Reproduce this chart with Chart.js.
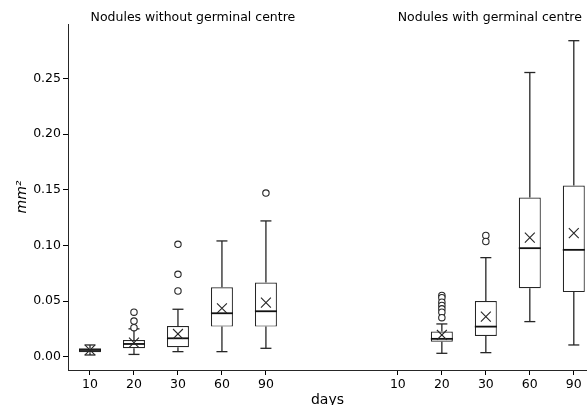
<!DOCTYPE html>
<html>
<head>
<meta charset="utf-8">
<script src="https://cdn.jsdelivr.net/npm/chart.js@4/dist/chart.umd.min.js"></script>
<style>
  html, body { margin: 0; padding: 0; background: #fff; }
  #wrap { width: 587px; height: 405px; }
</style>
</head>
<body>
<div id="wrap"><canvas id="grafico"></canvas></div>
<script>
const dias = ['10', '20', '30', '60', '90'];
const grupos = ['Nodules without germinal centre', 'Nodules with germinal centre'];

// sem centro germinal
const semMin = [0.0015, 0.002, 0.0045, 0.0045, 0.0075];
const semQ1 = [0.004, 0.0075, 0.0085, 0.027, 0.027];
const semMediana = [0.006, 0.0114, 0.0165, 0.039, 0.0408];
const semQ3 = [0.0075, 0.015, 0.0276, 0.0624, 0.0666];
const semMax = [0.0105, 0.025, 0.0426, 0.104, 0.122];
const semMedia = [0.006, 0.0126, 0.0204, 0.0435, 0.0486];
const semOutliers = [[], [0.040, 0.032, 0.026], [0.101, 0.074, 0.059], [], [0.147]];

// com centro germinal
const comMin = [null, 0.003, 0.0036, 0.0315, 0.0105];
const comQ1 = [null, 0.0135, 0.0186, 0.0615, 0.058];
const comMediana = [null, 0.016, 0.027, 0.0975, 0.096];
const comQ3 = [null, 0.0225, 0.050, 0.143, 0.1538];
const comMax = [null, 0.0294, 0.089, 0.2554, 0.284];
const comMedia = [null, 0.0195, 0.036, 0.107, 0.111];
const comOutliers = [[], [0.055, 0.053, 0.049, 0.046, 0.043, 0.040, 0.035], [0.109, 0.1035], [], []];

const yTicks = [0, 0.05, 0.10, 0.15, 0.20, 0.25];

const FONTE = 'DejaVu Sans';
const COR = '#262626';

const series = [
    { offset: 0, min: semMin, q1: semQ1, med: semMediana, q3: semQ3, max: semMax, media: semMedia, out: semOutliers },
    { offset: 7, min: comMin, q1: comQ1, med: comMediana, q3: comQ3, max: comMax, media: comMedia, out: comOutliers }
];

const posicoes = [];
const rotulos = {};
series.forEach(s => dias.forEach((d, i) => { posicoes.push(s.offset + i); rotulos[s.offset + i] = d; }));

const bigodes = [], tampas = [], caixas = [], medianas = [], medias = [], outliers = [];
series.forEach(s => {
    dias.forEach((_, i) => {
        const x = s.offset + i;
        if (s.q1[i] !== null) {
            bigodes.push({ x, y: s.min[i] }, { x, y: s.q1[i] }, { x, y: null });
            bigodes.push({ x, y: s.q3[i] }, { x, y: s.max[i] }, { x, y: null });
            tampas.push({ x, y: s.min[i] }, { x, y: s.max[i] });
            caixas.push({ x, y: [s.q1[i], s.q3[i]] });
            medianas.push({ x, y: s.med[i] });
            medias.push({ x, y: s.media[i] });
        }
        s.out[i].forEach(v => outliers.push({ x, y: v }));
    });
});

const titulosGrupos = {
    id: 'titulosGrupos',
    afterDraw(chart) {
        const ctx = chart.ctx;
        const xs = chart.scales.x;
        ctx.save();
        ctx.font = '12.5px "' + FONTE + '"';
        ctx.fillStyle = '#000';
        ctx.textAlign = 'center';
        ctx.textBaseline = 'middle';
        ctx.fillText(grupos[0], xs.getPixelForValue(2.34), 18);
        ctx.fillText(grupos[1], xs.getPixelForValue(9.09), 18);
        ctx.restore();
    }
};

const ctx = document.getElementById('grafico').getContext('2d');

new Chart(ctx, {
    data: {
        datasets: [
            {
                type: 'line',
                data: bigodes,
                borderColor: COR,
                borderWidth: 1.3,
                pointRadius: 0,
                spanGaps: false,
                order: 5
            },
            {
                type: 'scatter',
                data: tampas,
                pointStyle: 'line',
                pointRadius: 5.5,
                pointBorderColor: COR,
                pointBorderWidth: 1.3,
                order: 4
            },
            {
                type: 'bar',
                data: caixas,
                backgroundColor: '#fff',
                borderColor: COR,
                borderWidth: 1.2,
                borderSkipped: false,
                barPercentage: 0.5,
                categoryPercentage: 1,
                order: 3
            },
            {
                type: 'scatter',
                data: medianas,
                pointStyle: 'line',
                pointRadius: 11,
                pointBorderColor: '#111',
                pointBorderWidth: 1.8,
                order: 2
            },
            {
                type: 'scatter',
                data: medias,
                pointStyle: 'crossRot',
                pointRadius: 7,
                pointBorderColor: COR,
                pointBorderWidth: 1.1,
                order: 1
            },
            {
                type: 'scatter',
                data: outliers,
                pointStyle: 'circle',
                pointRadius: 3.2,
                pointBackgroundColor: '#fff',
                pointBorderColor: COR,
                pointBorderWidth: 1.1,
                order: 0
            }
        ]
    },
    options: {
        responsive: true,
        maintainAspectRatio: false,
        animation: false,
        events: [],
        layout: { autoPadding: false, padding: { top: 24, left: 0, right: 0, bottom: 0 } },
        plugins: {
            legend: { display: false },
            tooltip: { enabled: false }
        },
        scales: {
            x: {
                type: 'linear',
                min: -0.5,
                max: 11.3,
                offset: false,
                afterBuildTicks: axis => { axis.ticks = posicoes.map(v => ({ value: v })); },
                afterFit: axis => {
                    axis.height = 35;
                    axis.paddingLeft = 0;
                    axis.paddingRight = 0;
                },
                ticks: {
                    autoSkip: false,
                    maxRotation: 0,
                    padding: 2,
                    color: '#000',
                    font: { family: FONTE, size: 12.5 },
                    callback: v => rotulos[v] || ''
                },
                grid: { offset: false, drawOnChartArea: false, tickLength: 5, tickColor: '#000', tickWidth: 1 },
                border: { display: true, color: COR, width: 1 },
                title: {
                    display: true,
                    text: 'days',
                    color: '#000',
                    font: { family: FONTE, size: 14, lineHeight: 0.7 },
                    padding: { top: 0, bottom: 0 }
                }
            },
            y: {
                min: -0.012,
                max: 0.299,
                afterBuildTicks: axis => { axis.ticks = yTicks.map(v => ({ value: v })); },
                afterFit: axis => { axis.width = 68; },
                ticks: {
                    padding: 2,
                    color: '#000',
                    font: { family: FONTE, size: 12.5 },
                    callback: v => v.toFixed(2)
                },
                grid: { drawOnChartArea: false, tickLength: 5, tickColor: '#000', tickWidth: 1 },
                border: { display: true, color: COR, width: 1 },
                title: {
                    display: true,
                    text: 'mm²',
                    color: '#000',
                    font: { family: FONTE, size: 14, style: 'italic' },
                    padding: { top: 14, bottom: 0 }
                }
            }
        }
    },
    plugins: [titulosGrupos]
});
</script>
</body>
</html>
